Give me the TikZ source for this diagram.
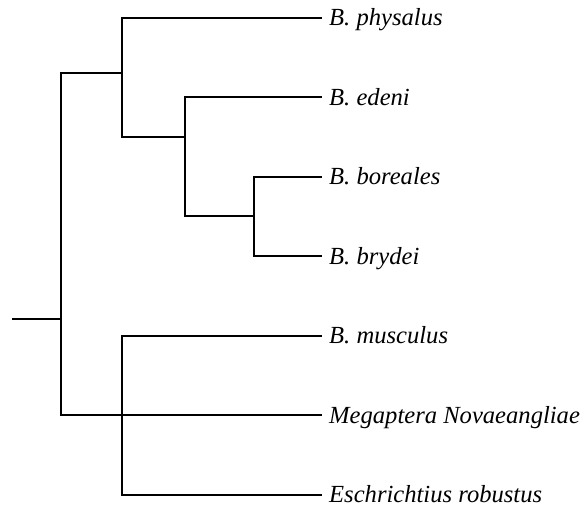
\documentclass[tikz,border=0pt]{standalone}
\usepackage{fontspec}
\setmainfont{Liberation Serif}
\usepackage{tikz}
\usetikzlibrary{positioning, calc}

\begin{document}
\begin{tikzpicture}[x=1pt, y=-1pt,
    branch/.style={line width=2pt, line cap=rect},
    leaf/.style={anchor=base west, inner sep=0pt, xshift=8pt, yshift=-8pt,
      font=\fontsize{24.6}{28}\selectfont\itshape}]
    \useasboundingbox (0,0) rectangle (586,507);

    % Tips
    \coordinate (t1) at (321,17.5);
    \coordinate (t2) at (321,97);
    \coordinate (t3) at (321,176.5);
    \coordinate (t4) at (321,256);
    \coordinate (t5) at (321,335.5);
    \coordinate (t6) at (321,415);
    \coordinate (t7) at (321,494.5);

    \node[leaf] (phys) at (t1) {B. physalus};
    \node[leaf] (eden) at (t2) {B. edeni};
    \node[leaf] (bore) at (t3) {B. boreales};
    \node[leaf] (bryd) at (t4) {B. brydei};
    \node[leaf] (musc) at (t5) {B. musculus};
    \node[leaf] (mega) at (t6) {Megaptera Novaeangliae};
    \node[leaf] (esch) at (t7) {Eschrichtius robustus};

    % Splits
    \coordinate (stub) at (13,319);
    \coordinate (r) at (61,319);
    \coordinate (a) at (122,73);
    \coordinate (b) at (185,137);
    \coordinate (c) at (254,216);
    \coordinate (d) at (122,415);

    % Root
    \draw[branch] (stub) -- (r);
    \draw[branch] (t6) -- (r |- t6) -- (r |- a) -- (a);

    % Upper clade
    \draw[branch] (t1) -- (a |- t1) -- (a |- b) -- (b);
    \draw[branch] (t2) -- (b |- t2) -- (b |- c) -- (c);
    \draw[branch] (t3) -- (c |- t3) -- (c |- t4) -- (t4);

    % Lower clade
    \draw[branch] (t5) -- (d |- t5) -- (d |- t7) -- (t7);
\end{tikzpicture}
\end{document}
